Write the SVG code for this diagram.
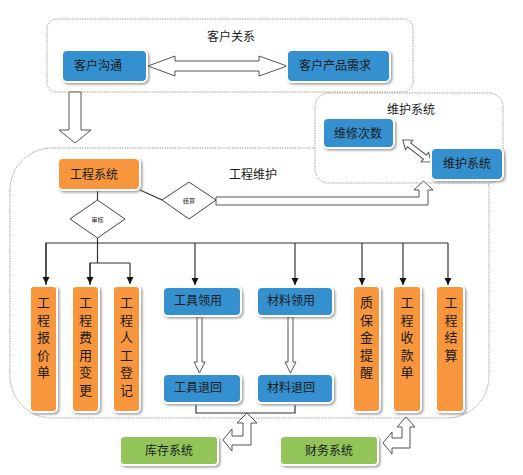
<svg xmlns="http://www.w3.org/2000/svg" width="523" height="475" viewBox="0 0 523 475">
<style>
text{font-family:"Noto Sans CJK SC","Liberation Sans",sans-serif;fill:#1a1a1a}
.lbl{font-size:12px}
.ttl{font-size:12px}
.vt{font-size:13px;text-anchor:middle}
.sm{font-size:6px;text-anchor:middle}
.cont{fill:#fff;stroke:#a0a0a0;stroke-width:1;stroke-dasharray:1.5 1}
.blue{fill:#3590d0;stroke:#fff;stroke-width:2;filter:url(#sh)}
.org{fill:#f7963c;stroke:#fff;stroke-width:2;filter:url(#sh)}
.grn{fill:#92c45a;stroke:#fff;stroke-width:2;filter:url(#sh)}
.ln{fill:none;stroke:#333;stroke-width:1.2}
.hol{fill:#fff;stroke:#555;stroke-width:1}
.dia{fill:#fff;stroke:#444;stroke-width:1}
</style>
<defs>
<filter id="sh" x="-20%" y="-20%" width="140%" height="140%">
<feDropShadow dx="1.5" dy="1.5" stdDeviation="1" flood-color="#777" flood-opacity="0.7"/>
</filter>
<marker id="ah" markerWidth="8" markerHeight="8" refX="7" refY="4" orient="auto" markerUnits="userSpaceOnUse">
<path d="M0,0.5 L7,4 L0,7.5 Z" fill="#111"/>
</marker>
</defs>
<rect width="523" height="475" fill="#fff"/>

<!-- containers -->
<g id="container-gongcheng">
<rect class="cont" x="10" y="148" width="479" height="270" rx="42"/>
<text class="ttl" x="229" y="179">工程维护</text>
</g>
<g id="container-kehu">
<rect class="cont" x="47" y="19" width="366" height="73" rx="10"/>
<text class="ttl" x="207" y="41">客户关系</text>
</g>
<g id="container-weihu">
<rect class="cont" x="315" y="93" width="188" height="90" rx="14"/>
<text class="ttl" x="387" y="114">维护系统</text>
</g>

<!-- connectors -->
<g id="connectors">
<path class="hol" d="M148,66 L175,56 L175,61 L259,61 L259,56 L287,66 L259,76 L259,71 L175,71 L175,76 Z"/>
<path class="hol" d="M69,92 L81,92 L81,130 L91,130 L75,143 L59,130 L69,130 Z"/>
<path class="hol" transform="translate(417,151) rotate(38)" d="M-18,0 L-10,-6 L-10,-2.5 L10,-2.5 L10,-6 L18,0 L10,6 L10,2.5 L-10,2.5 L-10,6 Z"/>
<line class="ln" x1="140" y1="190" x2="162" y2="200"/>
<line class="ln" x1="97.5" y1="190" x2="97.5" y2="200"/>
<path class="hol" d="M216,197 L419,197 L419,190 L414,190 L423.5,181 L433,190 L428,190 L428,205 L216,205 Z"/>
<path class="ln" d="M97.5,238 L97.5,263"/>
<path class="ln" d="M46,285 L46,243 L448,243"/>
<path class="ln" d="M46,243 L46,284" marker-end="url(#ah)"/>
<path class="ln" d="M195,243 L195,285" marker-end="url(#ah)"/>
<path class="ln" d="M295,243 L295,285" marker-end="url(#ah)"/>
<path class="ln" d="M362,243 L362,285" marker-end="url(#ah)"/>
<path class="ln" d="M403,243 L403,285" marker-end="url(#ah)"/>
<path class="ln" d="M448,243 L448,285" marker-end="url(#ah)"/>
<path class="ln" d="M90,285 L90,263 L130,263"/>
<path class="ln" d="M90,263 L90,284" marker-end="url(#ah)"/>
<path class="ln" d="M130,263 L130,284" marker-end="url(#ah)"/>
<path class="hol" d="M197,317 L202,317 L202,362 L205,362 L199.5,373 L194,362 L197,362 Z"/>
<path class="hol" d="M288,317 L293,317 L293,362 L296,362 L290.5,373 L285,362 L288,362 Z"/>
<path class="ln" d="M196,405 L196,413 L295,413 L295,405"/>
<path class="hol" d="M247,413 L257,423 L251,423 L251,445 L232,445 L232,451 L223,440 L232,429 L232,436 L243,436 L243,423 L237,423 Z"/>
<path class="hol" d="M406,417 L415,427 L410,427 L410,448 L392,448 L392,454 L383,443 L392,432 L392,438 L402,438 L402,427 L397,427 Z"/>
</g>

<!-- nodes -->
<g id="n-kehugoutong">
<rect class="blue" x="62" y="50" width="85" height="32" rx="5"/>
<text class="lbl" x="74" y="70">客户沟通</text>
</g>
<g id="n-kehuxuqiu">
<rect class="blue" x="287" y="50" width="103" height="32" rx="5"/>
<text class="lbl" x="299" y="70">客户产品需求</text>
</g>
<g id="n-weixiucishu">
<rect class="blue" x="323" y="118" width="71" height="30" rx="5"/>
<text class="lbl" x="334" y="138">维修次数</text>
</g>
<g id="n-weihuxitong">
<rect class="blue" x="431" y="148" width="72" height="32" rx="5"/>
<text class="lbl" x="443" y="168">维护系统</text>
</g>
<g id="n-gongchengxitong">
<rect class="org" x="58" y="158" width="82" height="32" rx="5"/>
<text class="lbl" x="70" y="179">工程系统</text>
</g>
<g id="n-jiesuan">
<polygon class="dia" points="162,200 189,182 216,200 189,219"/>
<text class="sm" x="189" y="202.5">结算</text>
</g>
<g id="n-shenhe">
<polygon class="dia" points="70,219 97.5,200 125,219 97.5,238"/>
<text class="sm" x="97.5" y="221.5">审核</text>
</g>

<g id="n-baojiadan">
<rect class="org" x="30" y="286" width="27" height="126" rx="4"/>
<text class="vt" x="43.5" y="307"><tspan x="43.5">工</tspan><tspan x="43.5" dy="17.5">程</tspan><tspan x="43.5" dy="17.5">报</tspan><tspan x="43.5" dy="17.5">价</tspan><tspan x="43.5" dy="17.5">单</tspan></text>
</g>
<g id="n-feiyongbiangeng">
<rect class="org" x="72" y="286" width="27" height="126" rx="4"/>
<text class="vt" x="85.5" y="307"><tspan x="85.5">工</tspan><tspan x="85.5" dy="17.5">程</tspan><tspan x="85.5" dy="17.5">费</tspan><tspan x="85.5" dy="17.5">用</tspan><tspan x="85.5" dy="17.5">变</tspan><tspan x="85.5" dy="17.5">更</tspan></text>
</g>
<g id="n-rengongdengji">
<rect class="org" x="113" y="286" width="27" height="126" rx="4"/>
<text class="vt" x="126.5" y="307"><tspan x="126.5">工</tspan><tspan x="126.5" dy="17.5">程</tspan><tspan x="126.5" dy="17.5">人</tspan><tspan x="126.5" dy="17.5">工</tspan><tspan x="126.5" dy="17.5">登</tspan><tspan x="126.5" dy="17.5">记</tspan></text>
</g>
<g id="n-gongjulingyong">
<rect class="blue" x="163" y="287" width="78" height="29" rx="5"/>
<text class="lbl" x="174" y="305">工具领用</text>
</g>
<g id="n-cailiaolingyong">
<rect class="blue" x="257" y="287" width="76" height="29" rx="5"/>
<text class="lbl" x="267" y="305">材料领用</text>
</g>
<g id="n-gongjutuihui">
<rect class="blue" x="163" y="374" width="78" height="29" rx="5"/>
<text class="lbl" x="174" y="392">工具退回</text>
</g>
<g id="n-cailiaotuihui">
<rect class="blue" x="257" y="374" width="76" height="29" rx="5"/>
<text class="lbl" x="267" y="392">材料退回</text>
</g>
<g id="n-zhibaojin">
<rect class="org" x="353" y="286" width="27" height="126" rx="4"/>
<text class="vt" x="366.5" y="307"><tspan x="366.5">质</tspan><tspan x="366.5" dy="17.5">保</tspan><tspan x="366.5" dy="17.5">金</tspan><tspan x="366.5" dy="17.5">提</tspan><tspan x="366.5" dy="17.5">醒</tspan></text>
</g>
<g id="n-shoukuandan">
<rect class="org" x="393" y="286" width="28" height="126" rx="4"/>
<text class="vt" x="407" y="307"><tspan x="407">工</tspan><tspan x="407" dy="17.5">程</tspan><tspan x="407" dy="17.5">收</tspan><tspan x="407" dy="17.5">款</tspan><tspan x="407" dy="17.5">单</tspan></text>
</g>
<g id="n-gongchengjiesuan">
<rect class="org" x="436" y="286" width="28" height="126" rx="4"/>
<text class="vt" x="451" y="307"><tspan x="451">工</tspan><tspan x="451" dy="17.5">程</tspan><tspan x="451" dy="17.5">结</tspan><tspan x="451" dy="17.5">算</tspan></text>
</g>
<g id="n-kucun">
<rect class="grn" x="120" y="436" width="98" height="29" rx="4"/>
<text class="lbl" x="169" y="454.5" text-anchor="middle">库存系统</text>
</g>
<g id="n-caiwu">
<rect class="grn" x="280" y="436" width="98" height="29" rx="4"/>
<text class="lbl" x="329" y="454.5" text-anchor="middle">财务系统</text>
</g>
</svg>
